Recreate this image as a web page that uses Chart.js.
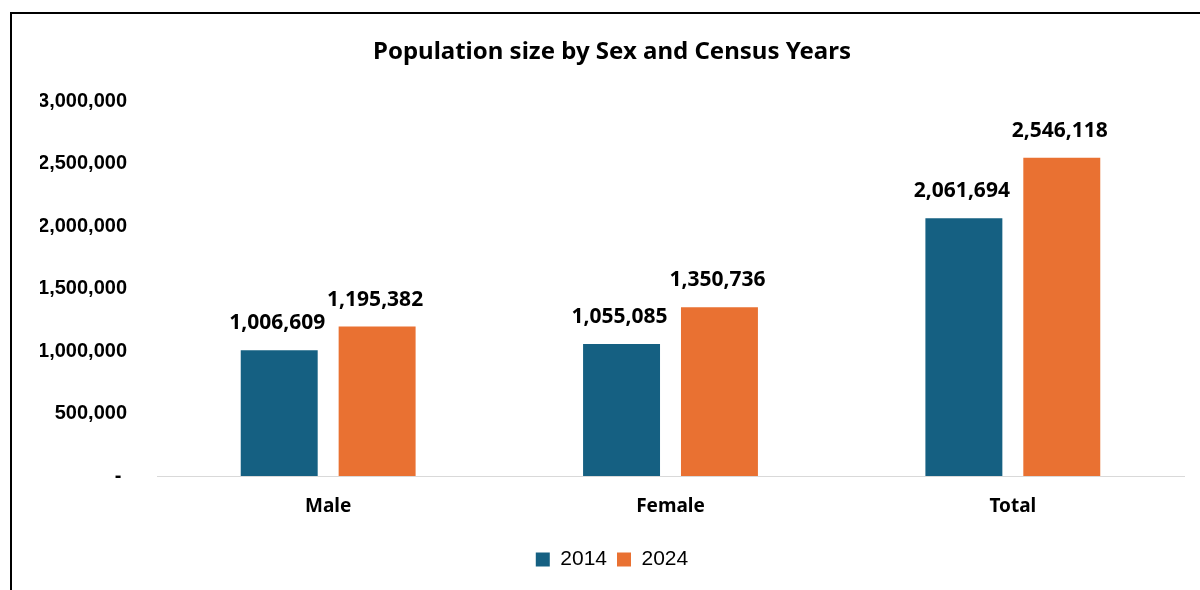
<!DOCTYPE html>
<html>
<head>
<meta charset="utf-8">
<script src="https://cdn.jsdelivr.net/npm/chart.js@4.4.1/dist/chart.umd.min.js"></script>
<style>
  html, body { margin: 0; padding: 0; background: #fff; overflow: hidden; }
  .frame { position: absolute; left: 10px; top: 12px; width: 1300px; height: 700px; border: 2px solid #000; }
  .wrap { position: absolute; left: 0; top: 0; width: 1200px; height: 590px; }
</style>
</head>
<body>
<div class="frame"></div>
<div class="wrap"><canvas id="popChart"></canvas></div>
<script>
const categories = ['Male', 'Female', 'Total'];
const seriesNames = ['2014', '2024'];
const values2014 = [1006609, 1055085, 2061694];
const values2024 = [1195382, 1350736, 2546118];
const yTicks = [0, 500000, 1000000, 1500000, 2000000, 2500000, 3000000];

const BLUE = '#156082';
const ORANGE = '#E97132';
const fmt = v => v.toLocaleString('en-US');

// draws the value above each bar (no datalabels plugin offline)
const barValueLabels = {
  id: 'barValueLabels',
  afterDatasetsDraw(chart) {
    const ctx = chart.ctx;
    ctx.save();
    ctx.font = 'bold 21px "Noto Sans", Roboto, sans-serif';
    ctx.fillStyle = '#000';
    ctx.textAlign = 'center';
    ctx.textBaseline = 'middle';
    chart.data.datasets.forEach((ds, i) => {
      chart.getDatasetMeta(i).data.forEach((bar, j) => {
        ctx.fillText(fmt(ds.data[j]), bar.x - 2, bar.y - 27);
      });
    });
    ctx.restore();
  }
};

new Chart(document.getElementById('popChart'), {
  type: 'bar',
  data: {
    labels: categories,
    datasets: [
      { label: seriesNames[0], data: values2014, backgroundColor: BLUE },
      { label: seriesNames[1], data: values2024, backgroundColor: ORANGE }
    ]
  },
  options: {
    responsive: true,
    maintainAspectRatio: false,
    animation: false,
    devicePixelRatio: 1,
    categoryPercentage: 0.572,
    barPercentage: 0.786,
    layout: { padding: { left: 40, right: 16, top: 14, bottom: 10 } },
    plugins: {
      title: {
        display: true,
        text: 'Population size by Sex and Census Years',
        color: '#000',
        font: { family: '"Noto Sans", Roboto, sans-serif', size: 24, weight: 'bold', lineHeight: 1.2 },
        padding: { top: 23.6, bottom: 34.6 }
      },
      legend: {
        position: 'bottom',
        labels: {
          color: '#000',
          boxWidth: 14,
          boxHeight: 14,
          padding: 10,
          font: { family: '"Liberation Sans", Arial, sans-serif', size: 21 }
        }
      },
      tooltip: { enabled: false }
    },
    scales: {
      x: {
        grid: { display: false, drawTicks: false },
        border: { display: true, color: '#d9d9d9', width: 1 },
        ticks: {
          color: '#000',
          padding: 19.6,
          font: { family: '"Noto Sans", Roboto, sans-serif', size: 19, weight: 'bold' }
        },
        afterFit(scale) { scale.height = 63; }
      },
      y: {
        min: 0,
        max: 3000000,
        grid: { display: false, drawTicks: false },
        border: { display: false },
        afterBuildTicks(scale) { scale.ticks = yTicks.map(v => ({ value: v })); },
        afterFit(scale) { scale.width = 117; },
        ticks: {
          color: '#000',
          padding: 30,
          font: { family: '"Liberation Sans", Arial, sans-serif', size: 20, weight: 'bold' },
          callback: v => v === 0 ? '- ' : fmt(v)
        }
      }
    }
  },
  plugins: [barValueLabels]
});
</script>
</body>
</html>
